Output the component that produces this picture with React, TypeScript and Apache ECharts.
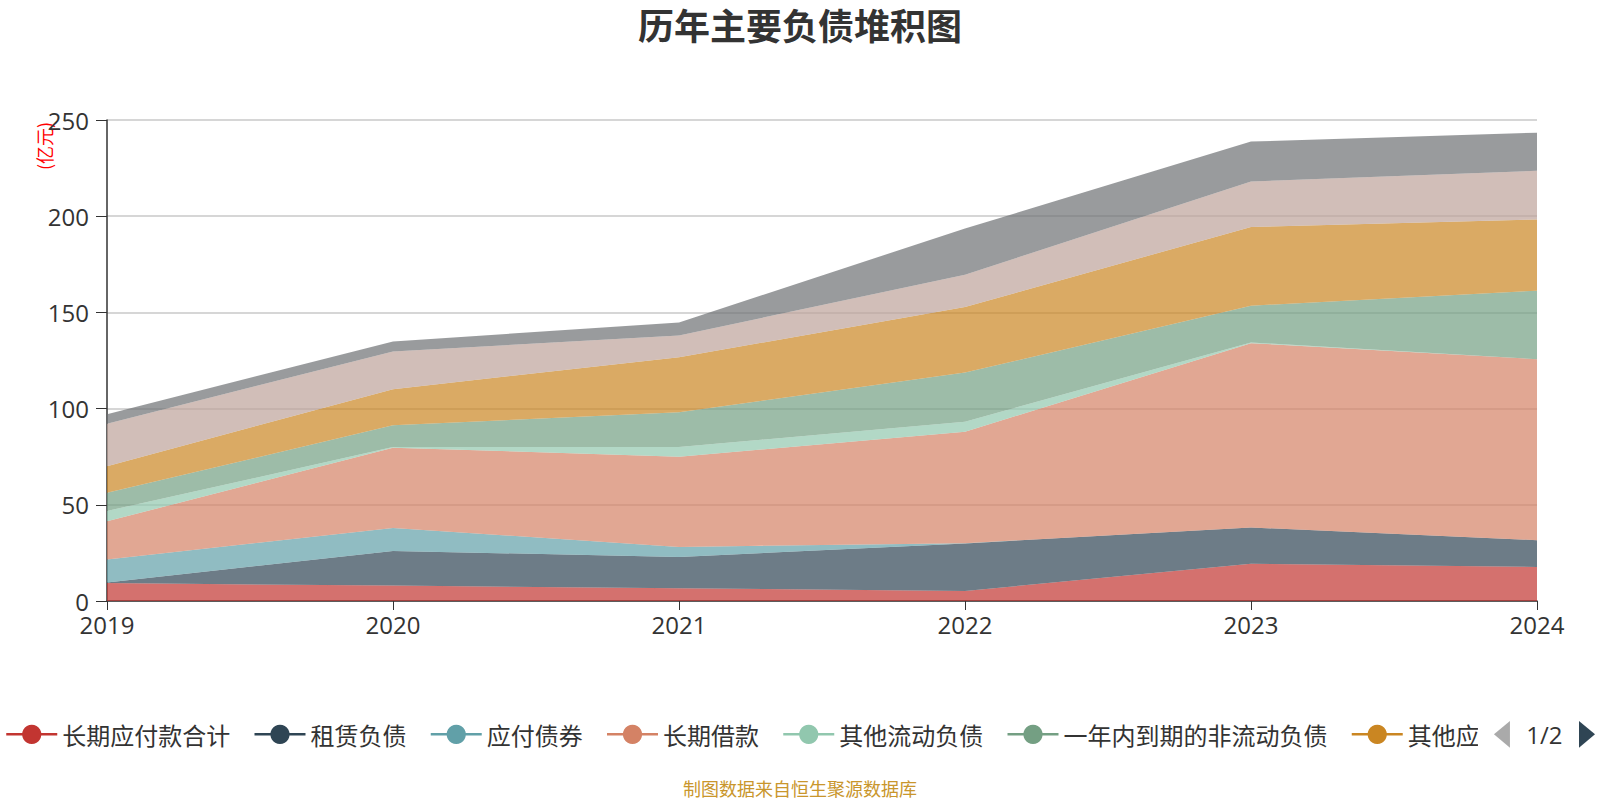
import React, { useEffect, useRef } from "react";
import * as echarts from "echarts";

const years = ["2019", "2020", "2021", "2022", "2023", "2024"];
const seriesNames = [
  "长期应付款合计",
  "租赁负债",
  "应付债券",
  "长期借款",
  "其他流动负债",
  "一年内到期的非流动负债",
  "其他应付款合计",
  "应付账款",
  "短期借款",
];
const s1 = [9.3, 8.0, 6.6, 5.2, 19.4, 17.7];
const s2 = [0.3, 18.0, 16.3, 24.7, 18.8, 13.9];
const s3 = [12.0, 12.0, 5.2, 0.1, 0, 0];
const s4 = [19.8, 41.7, 46.9, 58.0, 95.8, 94.1];
const s5 = [5.4, 0.3, 5.0, 5.2, 0.4, 0];
const s6 = [9.4, 11.3, 18.1, 25.5, 19.1, 35.6];
const s7 = [13.9, 18.8, 28.6, 34.1, 40.9, 37.0];
const s8 = [22.0, 19.6, 11.3, 16.8, 23.6, 25.3];
const s9 = [5.0, 5.2, 6.8, 24.0, 20.8, 19.8];
const seriesData = [s1, s2, s3, s4, s5, s6, s7, s8, s9];
const yTicks = { min: 0, max: 250, interval: 50 };

const palette = [
  "#c23531", "#2f4554", "#61a0a8", "#d48265", "#91c7ae",
  "#749f83", "#ca8622", "#bda29a", "#6e7074", "#546570", "#c4ccd3",
];

const FONT = "'Open Sans', 'Noto Sans CJK SC', sans-serif";
const CJK = "'Noto Sans CJK SC', sans-serif";

export default function App() {
  const ref = useRef<HTMLDivElement>(null);
  useEffect(() => {
    document.body.style.margin = "0";
    document.body.style.overflow = "hidden";
    document.documentElement.style.overflow = "hidden";
    if (!ref.current) return;
    const chart = echarts.init(ref.current, null, { renderer: "svg" });
    chart.setOption({
      animation: false,
      color: palette,
      textStyle: { fontFamily: FONT },
      title: {
        text: "历年主要负债堆积图",
        left: "center",
        top: 1,
        textStyle: { fontSize: 36, fontWeight: "bold", color: "#333", fontFamily: CJK },
      },
      legend: {
        type: "scroll",
        left: 0,
        right: -3,
        top: 716,
        itemWidth: 51,
        itemHeight: 24,
        itemGap: 23,
        lineStyle: { width: 2.5 },
        textStyle: { fontSize: 24, color: "#333", fontFamily: CJK },
        pageIconColor: "#2f4554",
        pageIconInactiveColor: "#aaa",
        pageIconSize: [16, 30],
        pageTextStyle: { fontSize: 24, color: "#333", fontFamily: FONT },
        pageButtonItemGap: 5,
        pageButtonGap: 16,
        data: seriesNames,
      },
      grid: { left: 107, right: 63, top: 120, bottom: 199 },
      xAxis: {
        type: "category",
        boundaryGap: false,
        data: years,
        axisLine: { lineStyle: { color: "#333", width: 1.5 } },
        axisTick: { length: 9, lineStyle: { color: "#333" } },
        axisLabel: { fontSize: 24, color: "#333", margin: 11, fontFamily: FONT },
      },
      yAxis: {
        type: "value",
        min: yTicks.min,
        max: yTicks.max,
        interval: yTicks.interval,
        axisLine: { show: true, lineStyle: { color: "#333", width: 1.5 } },
        axisTick: { show: true, length: 11, lineStyle: { color: "#333" } },
        axisLabel: { fontSize: 24, color: "#333", margin: 18, fontFamily: FONT },
        splitLine: { lineStyle: { color: "#c8c8c8", width: 1.5 } },
      },
      graphic: [
        {
          type: "text",
          x: 44,
          y: 146,
          rotation: Math.PI / 2,
          style: {
            text: "(亿元)",
            fill: "#ff0000",
            fontSize: 18,
            fontFamily: CJK,
            align: "center",
            verticalAlign: "middle",
          },
        },
        {
          type: "text",
          left: "center",
          top: 779,
          style: {
            text: "制图数据来自恒生聚源数据库",
            fill: "#c9962c",
            fontSize: 18,
            fontFamily: CJK,
          },
        },
      ],
      series: seriesNames.map((name, i) => ({
        name,
        type: "line",
        stack: "total",
        data: seriesData[i],
        symbol: "circle",
        showSymbol: false,
        lineStyle: { width: 0 },
        areaStyle: { opacity: 0.7 },
      })),
    });
    return () => chart.dispose();
  }, []);
  return <div ref={ref} style={{ width: 1600, height: 800 }} />;
}
